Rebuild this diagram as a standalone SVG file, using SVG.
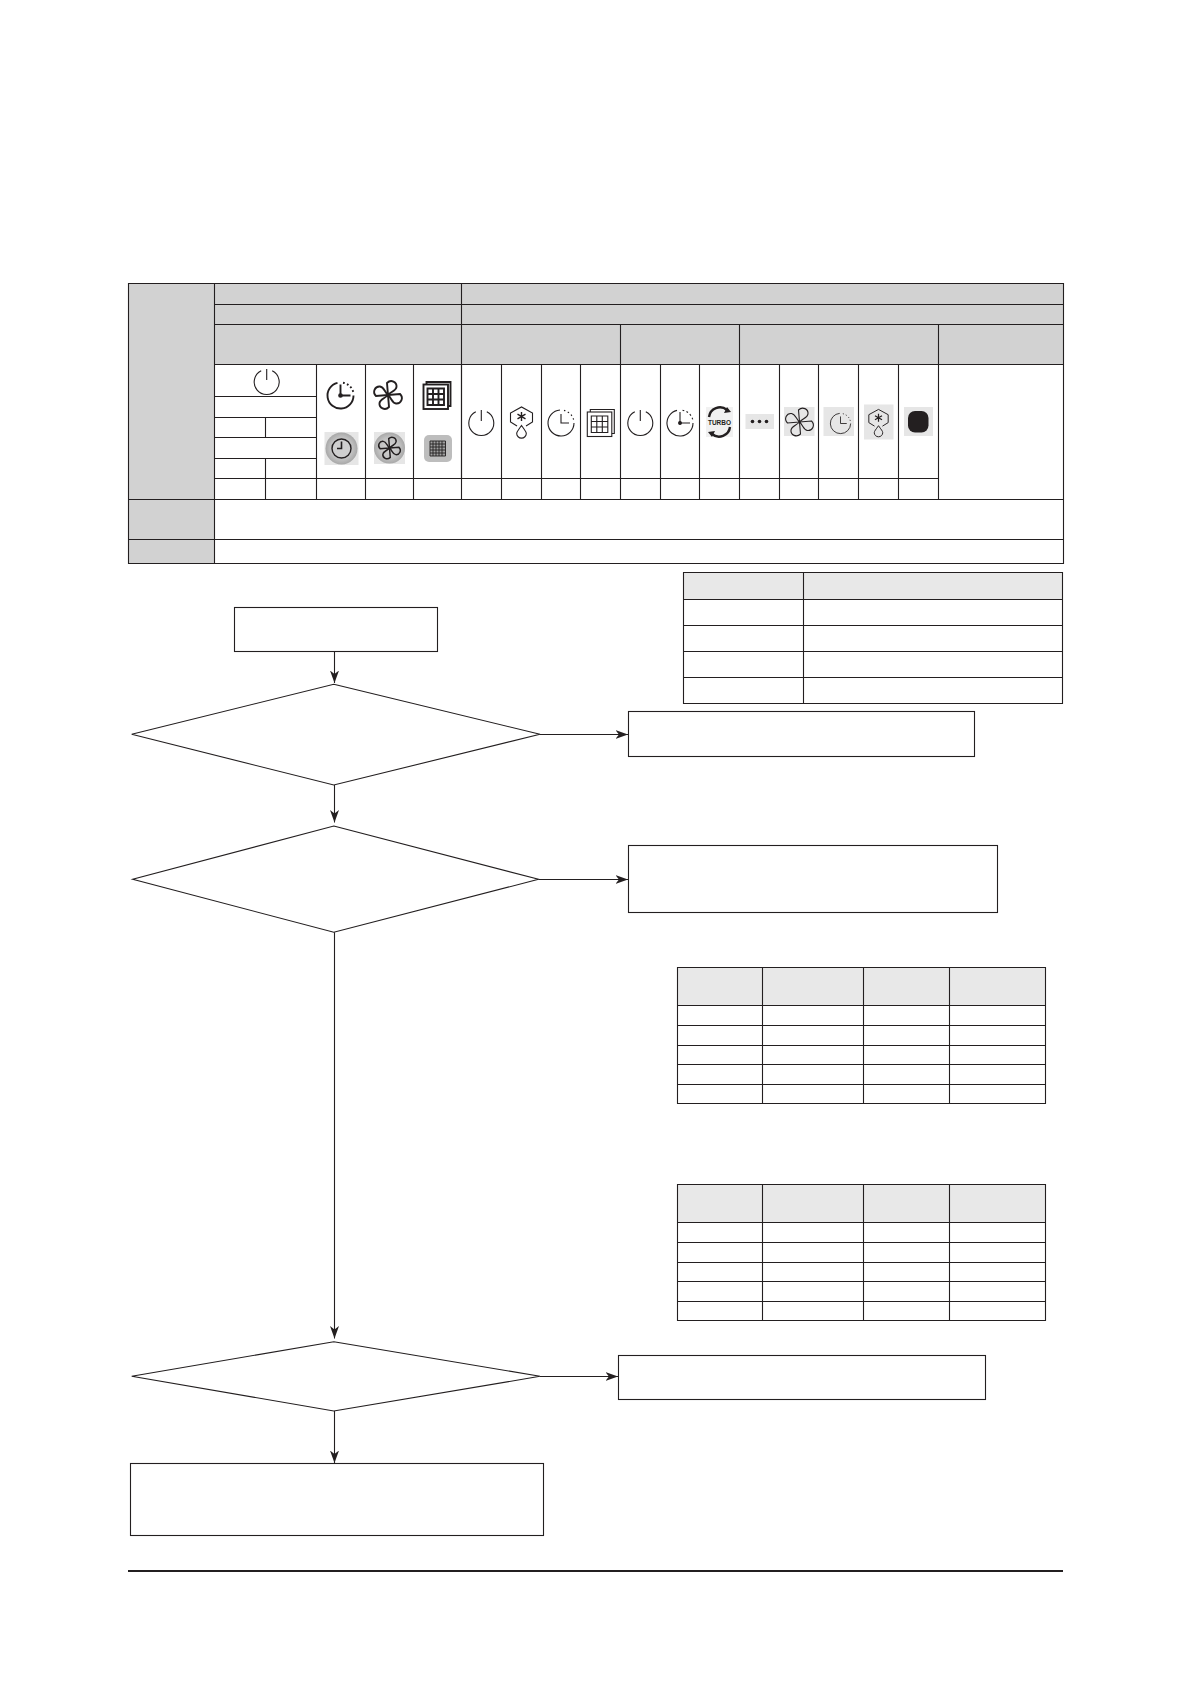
<svg xmlns="http://www.w3.org/2000/svg" xmlns:xlink="http://www.w3.org/1999/xlink" width="1191" height="1684" viewBox="0 0 1191 1684">
<style>
.l{fill:none;stroke:#231f20;stroke-width:1.1}
.n{fill:#fff;stroke:#231f20;stroke-width:1.1}
.g{fill:#d2d2d2}
.h{fill:#e8e8e8}
.i{fill:none;stroke:#231f20;stroke-width:1.1}
.b{fill:none;stroke:#231f20;stroke-width:1.9}
.bg{fill:#e6e6e6}
.c{stroke:#231f20;stroke-width:1.1;fill:none;marker-end:url(#arrow)}
</style>
<defs>
<marker id="arrow" markerUnits="userSpaceOnUse" markerWidth="14" markerHeight="11" refX="12.5" refY="5.5" orient="auto"><path d="M12.5,5.5 L0,1 L3.4,5.5 L0,10 Z" fill="#231f20"/></marker>
<radialGradient id="disc"><stop offset="0" stop-color="#d4d4d4"/><stop offset="0.7" stop-color="#c0c0c0"/><stop offset="1" stop-color="#a8a8a8"/></radialGradient>
<g id="power"><path d="M-5.5,-11.2 A12.5,12.5 0 1 0 5.5,-11.2 M0,-13 V-2"/></g>
<g id="timer"><path d="M-3,-12.6 A13,13 0 1 0 13,0 M0,-11 V0 H10"/><circle cx="0" cy="0" r="1.4" fill="#231f20"/><path d="M2.5,-12.8 A13,13 0 0 1 13,-2.5" stroke-dasharray="1.8 2.4"/></g>
<g id="clock"><path d="M-1,-13 A13,13 0 1 0 13,0 M0,-9 V0 H8"/><path d="M3,-12.6 A13,13 0 0 1 12.8,-2.5" stroke-dasharray="1.5 2.6"/></g>
<g id="fan"><path id="petal" d="M0,0 L-1,-12 C3,-16 9,-13 8.5,-8 C8,-4 3,-3.5 0,0 Z"/><use xlink:href="#petal" href="#petal" transform="rotate(90)"/><use xlink:href="#petal" href="#petal" transform="rotate(180)"/><use xlink:href="#petal" href="#petal" transform="rotate(270)"/></g>
<g id="grid"><path d="M-10.5,-11 V-13.5 H13.5 V10.5 H11"/><rect x="-13.5" y="-11" width="24.5" height="24.5"/><path d="M-9.5,-7 H7 V9.5 H-9.5 Z M-4,-7 V9.5 M1.5,-7 V9.5 M-9.5,-1.5 H7 M-9.5,4 H7"/></g>
<g id="hex"><path d="M4.5,3 L11,-1 V-10 L0,-16 L-11,-10 V-1 L-4.5,3"/><path d="M0,-11 V-2 M-4,-8.8 L4,-4.2 M4,-8.8 L-4,-4.2" stroke-width="1.4"/><path d="M0,2.5 C-3,7 -4.8,8.5 -4.8,10.5 A4.8,4.6 0 0 0 4.8,10.5 C4.8,8.5 3,7 0,2.5 Z"/></g>
</defs>
<rect width="1191" height="1684" fill="#fff"/>

<g id="table-status">
<rect class="g" x="128.5" y="283.5" width="86" height="280"/>
<rect class="g" x="214.5" y="283.5" width="849" height="81"/>
<path class="l" d="M128.5,283.5 H1063.5 V563.5 H128.5 Z M214.5,283.5 V563.5 M461.5,283.5 V478.5 M214.5,304.5 H1063.5 M214.5,324.5 H1063.5 M214.5,364.5 H1063.5 M128.5,499.5 H1063.5 M128.5,539.5 H1063.5"/>
<path class="l" d="M214.5,396.5 H316.5 M214.5,417.5 H316.5 M214.5,437.5 H316.5 M214.5,458.5 H316.5 M214.5,478.5 H938.5"/>
<path class="l" d="M265.5,417.5 V437.5 M265.5,458.5 V499.5 M316.5,364.5 V499.5 M365.5,364.5 V499.5 M413.5,364.5 V499.5 M461.5,364.5 V499.5"/>
<path class="l" d="M501.5,364.5 V499.5 M541.5,364.5 V499.5 M580.5,364.5 V499.5 M620.5,324.5 V499.5 M660.5,364.5 V499.5 M699.5,364.5 V499.5 M739.5,324.5 V499.5 M779.5,364.5 V499.5 M818.5,364.5 V499.5 M858.5,364.5 V499.5 M898.5,364.5 V499.5 M938.5,324.5 V499.5"/>

<use href="#power" class="i" x="266.7" y="382"/>
<use href="#timer" class="b" x="340.5" y="395.5"/>
<use href="#fan" class="b" x="388" y="395"/>
<use href="#grid" class="b" x="437" y="395.5"/>

<g id="icon-grey-timer"><rect x="324.5" y="432" width="34" height="33" fill="#e6e6e6"/><circle cx="341.5" cy="448.5" r="16" fill="url(#disc)"/><circle cx="341.5" cy="448.5" r="9.5" fill="#cfcfcf" stroke="#231f20" stroke-width="1.4"/><path d="M341.5,441.5 V448.5 H337" fill="none" stroke="#231f20" stroke-width="1.6"/></g>
<g id="icon-grey-fan"><rect x="374" y="432" width="31" height="32" fill="#e6e6e6"/><circle cx="389.5" cy="448" r="15.5" fill="url(#disc)"/><use href="#fan" class="b" transform="translate(389.5 448) scale(0.78)"/></g>
<g id="icon-grey-grid"><rect x="424" y="435" width="28" height="27" rx="5" fill="#bdbdbd"/><path d="M430,441 H445.5 V456 H430 Z M433,441 V456 M436,441 V456 M439,441 V456 M442,441 V456 M430,444 H445.5 M430,447 H445.5 M430,450 H445.5 M430,453 H445.5" fill="#a0a0a0" stroke="#231f20" stroke-width="0.9"/></g>

<use href="#power" class="i" x="481.3" y="423"/>
<use href="#hex" class="i" x="521.5" y="423"/>
<use href="#clock" class="i" x="561" y="423"/>
<use href="#grid" class="i" x="600.8" y="423"/>
<use href="#power" class="i" x="640.3" y="423"/>
<use href="#timer" class="i" x="680" y="423"/>

<g id="icon-turbo"><rect x="706" y="407" width="27" height="30" fill="#f1f1f1"/><path d="M709,417 A11,11 0 0 1 727,410" fill="none" stroke="#231f20" stroke-width="2.4"/><path d="M730,427 A11,11 0 0 1 712,434" fill="none" stroke="#231f20" stroke-width="2.4"/><path d="M727,407 L731,412 L724,413 Z M712,437 L708,432 L715,431 Z" fill="#231f20"/><text x="719.5" y="424.5" text-anchor="middle" font-family="'Liberation Sans',Arial,sans-serif" font-size="7" font-weight="700" fill="#231f20" textLength="23" lengthAdjust="spacingAndGlyphs">TURBO</text></g>
<g id="icon-dots"><rect class="bg" x="745.5" y="414" width="28.5" height="15"/><circle cx="752.5" cy="421.5" r="1.8" fill="#231f20"/><circle cx="759.5" cy="421.5" r="1.8" fill="#231f20"/><circle cx="766.5" cy="421.5" r="1.8" fill="#231f20"/></g>
<g id="icon-grey-fan2"><rect class="bg" x="784" y="407" width="30.5" height="29"/><use href="#fan" class="i" x="799.5" y="422"/></g>
<g id="icon-grey-clock"><rect class="bg" x="823.5" y="407" width="30.5" height="29"/><use href="#clock" class="i" transform="translate(840.5 423.5) scale(0.78)"/></g>
<g id="icon-grey-hex"><rect class="bg" x="864" y="404.5" width="29.5" height="35"/><use href="#hex" class="i" transform="translate(878.5 423.5) scale(0.88)"/></g>
<g id="icon-black"><rect class="bg" x="904" y="407" width="29" height="29"/><rect x="908" y="411" width="20.5" height="21.5" rx="7" fill="#231f20"/></g>
</g>

<g id="table-codes">
<rect class="h" x="683.5" y="572.5" width="379" height="27"/>
<path class="l" d="M683.5,572.5 H1062.5 V703.5 H683.5 Z M803.5,572.5 V703.5 M683.5,599.5 H1062.5 M683.5,625.5 H1062.5 M683.5,651.5 H1062.5 M683.5,677.5 H1062.5"/>
</g>

<g id="table-a">
<rect class="h" x="677.5" y="967.5" width="368" height="38"/>
<path class="l" d="M677.5,967.5 H1045.5 V1103.5 H677.5 Z M762.5,967.5 V1103.5 M863.5,967.5 V1103.5 M949.5,967.5 V1103.5 M677.5,1005.5 H1045.5 M677.5,1025.5 H1045.5 M677.5,1045.5 H1045.5 M677.5,1064.5 H1045.5 M677.5,1084.5 H1045.5"/>
</g>

<g id="table-b">
<rect class="h" x="677.5" y="1184.5" width="368" height="38"/>
<path class="l" d="M677.5,1184.5 H1045.5 V1320.5 H677.5 Z M762.5,1184.5 V1320.5 M863.5,1184.5 V1320.5 M949.5,1184.5 V1320.5 M677.5,1222.5 H1045.5 M677.5,1242.5 H1045.5 M677.5,1262.5 H1045.5 M677.5,1281.5 H1045.5 M677.5,1301.5 H1045.5"/>
</g>

<g id="start"><rect class="n" x="234.5" y="607.5" width="203" height="44"/></g>
<g id="decision-1"><path class="n" d="M333.8,684.3 L540,734.3 L333.8,785 L131.7,734.3 Z"/></g>
<g id="result-1"><rect class="n" x="628.5" y="711.5" width="346" height="45"/></g>
<g id="decision-2"><path class="n" d="M333.8,826 L538.5,879.3 L333.8,932.3 L132.7,879.3 Z"/></g>
<g id="result-2"><rect class="n" x="628.5" y="845.5" width="369" height="67"/></g>
<g id="decision-3"><path class="n" d="M333.8,1341.7 L540,1376.3 L333.8,1411 L131.7,1376.3 Z"/></g>
<g id="result-3"><rect class="n" x="618.5" y="1355.5" width="367" height="44"/></g>
<g id="end"><rect class="n" x="130.5" y="1463.5" width="413" height="72"/></g>

<g id="connectors">
<path class="c" d="M334.5,651.5 V683"/>
<path class="c" d="M334.5,785 V822.5"/>
<path class="c" d="M334.5,932.3 V1338.5"/>
<path class="c" d="M334.5,1411 V1463"/>
<path class="c" d="M540,734.5 H628"/>
<path class="c" d="M538.5,879.5 H628"/>
<path class="c" d="M540,1376.5 H618"/>
</g>

<rect id="footer-rule" x="128" y="1570" width="935" height="2" fill="#231f20"/>
</svg>
